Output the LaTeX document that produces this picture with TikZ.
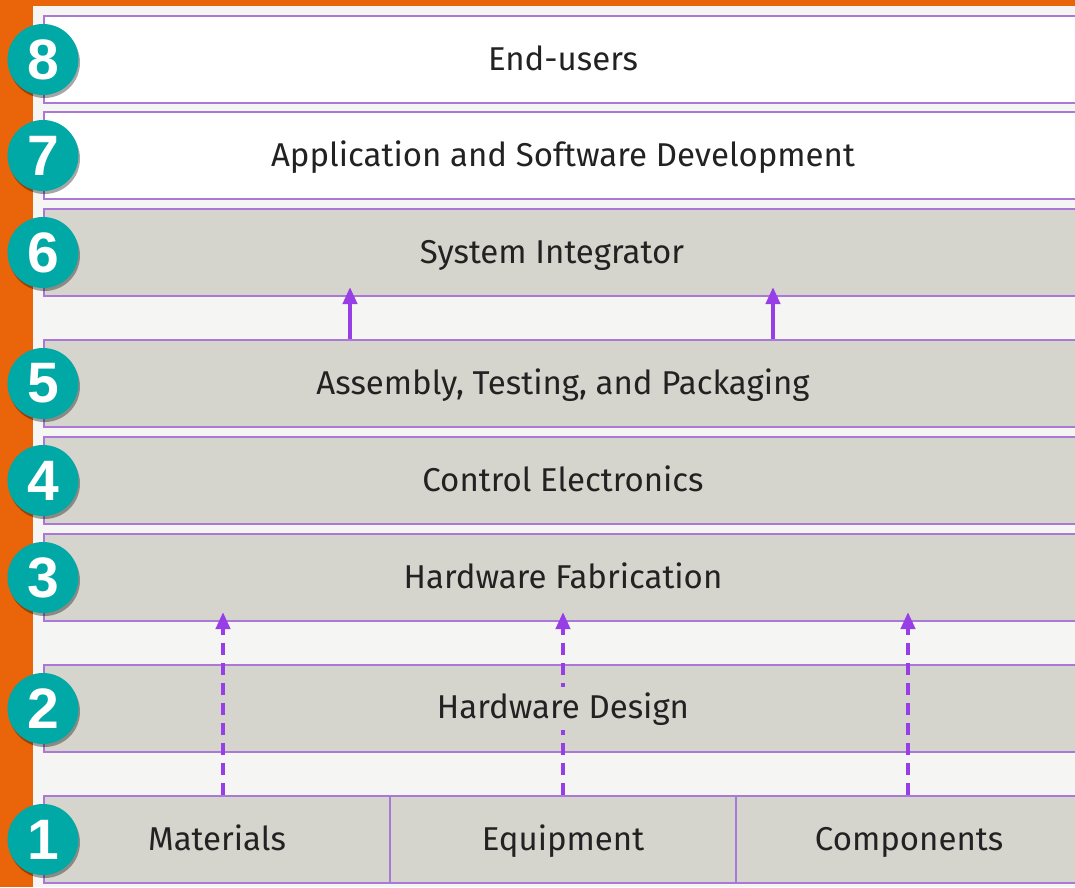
\documentclass[tikz,border=0pt]{standalone}
\usepackage{fontspec}
\setmainfont{Fira Sans}
\newfontfamily\numfont{Liberation Sans}
\usetikzlibrary{arrows.meta,shadows}
\definecolor{orangeband}{RGB}{234,100,10}
\definecolor{bgcol}{RGB}{245,245,244}
\definecolor{barborder}{RGB}{170,120,215}
\definecolor{bargray}{RGB}{213,212,205}
\definecolor{arrcol}{RGB}{152,62,230}
\definecolor{teal}{RGB}{0,168,166}
\definecolor{txt}{RGB}{34,34,34}
\begin{document}
\begin{tikzpicture}[x=1pt,y=-1pt,
  barfont/.style={font=\fontsize{33}{36}\selectfont,text=txt},
  barbox/.style={draw=barborder,line width=2pt,minimum width=1038pt,minimum height=87pt,anchor=north west,inner sep=0pt,
     text height=24pt,text depth=2pt,barfont},
  graybar/.style={barbox,fill=bargray},
  whitebar/.style={barbox,fill=white},
  cellbox/.style={graybar,minimum width=346pt},
  overlabel/.style={barfont,fill=bargray,inner sep=0pt,text height=31pt,text depth=12pt},
  numcirc/.style={circle,fill=teal,minimum size=71pt,inner sep=0pt,text=white,
     font=\numfont\bfseries\fontsize{57}{60}\selectfont,
     drop shadow={shadow xshift=1.5pt,shadow yshift=-3pt,opacity=0.35,fill=black}},
  solidarr/.style={draw=arrcol,line width=4pt,-{Triangle[width=14pt,length=17pt]},shorten >=-10pt},
  dasharr/.style={solidarr,dash pattern=on 12pt off 8pt}
]
\useasboundingbox (0,0) rectangle (1075,887);
\fill[orangeband] (0,0) rectangle (1075,887);
\fill[bgcol] (33,6) rectangle (1075,887);

\node[whitebar] (b8) at (43,15) {End-users};
\node[whitebar] (b7) at (43,111) {Application and Software Development};
\node[graybar] (b6) at (43,208) {\hspace*{-22pt}System Integrator};
\node[graybar] (b5) at (43,339) {Assembly, Testing, and Packaging};
\node[graybar] (b4) at (43,436) {Control Electronics};
\node[graybar] (b3) at (43,533) {Hardware Fabrication};
\node[graybar] (b2) at (43,664) {};
\node[cellbox] (c1) at (43,795) {Materials};
\node[cellbox] (c2) at (389,795) {Equipment};
\node[cellbox] (c3) at (735,795) {Components};

\coordinate (xa) at (350,0);
\coordinate (xb) at (773,0);
\coordinate (xc) at (223,0);
\coordinate (xd) at (563,0);
\coordinate (xe) at (908,0);
\draw[solidarr] (b5.north -| xa) -- (b6.south -| xa);
\draw[solidarr] (b5.north -| xb) -- (b6.south -| xb);
\draw[dasharr] (c1.north -| xc) -- (b3.south -| xc);
\draw[dasharr] (c2.north -| xd) -- (b3.south -| xd);
\draw[dasharr] (c3.north -| xe) -- (b3.south -| xe);

\node[overlabel] (t2) at (b2.center) {Hardware Design};

\node[numcirc] (n8) at (b8.west) {8};
\node[numcirc] (n7) at (b7.west) {7};
\node[numcirc] (n6) at (b6.west) {6};
\node[numcirc] (n5) at (b5.west) {5};
\node[numcirc] (n4) at (b4.west) {4};
\node[numcirc] (n3) at (b3.west) {3};
\node[numcirc] (n2) at (b2.west) {2};
\node[numcirc] (n1) at (c1.west) {1};
\end{tikzpicture}
\end{document}
